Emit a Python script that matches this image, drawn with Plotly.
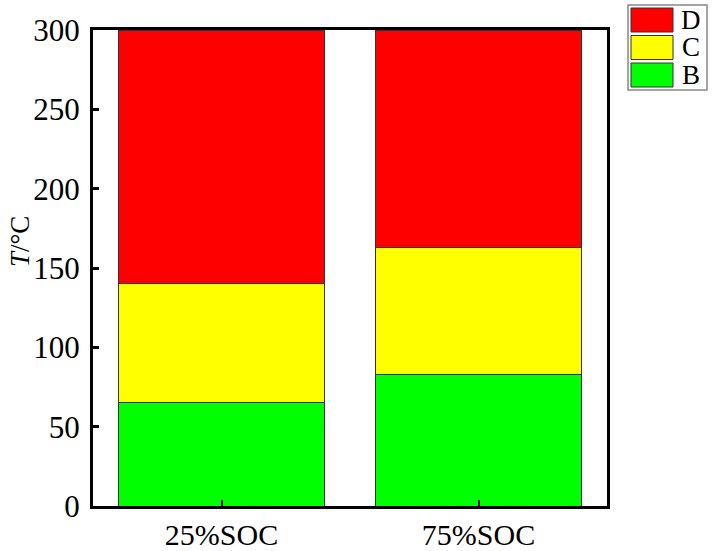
import plotly.graph_objects as go

categories = ["25%SOC", "75%SOC"]
series_names = ["B", "C", "D"]
B_vals = [65, 83]
C_vals = [75, 80]
D_vals = [160, 137]
colors = {"B": "#00ff00", "C": "#ffff00", "D": "#ff0000"}
y_ticks = [0, 50, 100, 150, 200, 250, 300]

fig = go.Figure()
for name, vals in zip(series_names, [B_vals, C_vals, D_vals]):
    fig.add_trace(go.Bar(
        x=categories, y=vals, name=name,
        marker=dict(color=colors[name], line=dict(color="#333333", width=1)),
        width=0.8, showlegend=False,
    ))

font_family = "Liberation Serif, Times New Roman, serif"

fig.update_layout(
    barmode="stack",
    width=716, height=551,
    margin=dict(l=93, r=109, t=30, b=45, autoexpand=False),
    plot_bgcolor="white", paper_bgcolor="white",
    font=dict(family=font_family, size=30, color="black"),
    xaxis=dict(
        range=[-0.5, 1.5], showline=True, linecolor="black", linewidth=3,
        mirror=True, ticks="inside", ticklen=6, tickwidth=2, tickcolor="black",
        tickfont=dict(size=30), showgrid=False, ticklabelstandoff=0,
    ),
    yaxis=dict(
        range=[0, 300], tickvals=y_ticks, showline=True, linecolor="black",
        linewidth=3, mirror=True, ticks="inside", ticklen=6, tickwidth=3,
        tickcolor="black", tickfont=dict(size=31), showgrid=False,
        zeroline=False, ticklabelstandoff=4,
    ),
)

W, H = 514, 476
def px_x(px):
    return (px - 93) / W
def px_y(py):
    return (506 - py) / H

# y-axis title
fig.add_annotation(
    text="<i>T</i>/°C", xref="paper", yref="paper",
    x=px_x(20), y=px_y(242), textangle=-90,
    showarrow=False, font=dict(size=27, family=font_family),
    xanchor="center", yanchor="middle",
)

# custom legend (D, C, B from top)
fig.add_shape(type="rect", xref="paper", yref="paper",
              x0=px_x(628), x1=px_x(707), y0=px_y(90), y1=px_y(5),
              line=dict(color="#888888", width=1.5), fillcolor="white")
legend_order = ["D", "C", "B"]
for i, name in enumerate(legend_order):
    top = 8 + i * 27.5
    fig.add_shape(type="rect", xref="paper", yref="paper",
                  x0=px_x(631), x1=px_x(673), y0=px_y(top + 24), y1=px_y(top),
                  line=dict(color="#333333", width=1), fillcolor=colors[name])
    fig.add_annotation(text=name, xref="paper", yref="paper",
                       x=px_x(691), y=px_y(top + 12), xanchor="center",
                       yanchor="middle", showarrow=False, borderpad=0,
                       font=dict(size=27, family=font_family))

fig.write_html("out.html", config={"displayModeBar": False},
               post_script="document.body.style.margin='0px';document.body.style.overflow='hidden';")
